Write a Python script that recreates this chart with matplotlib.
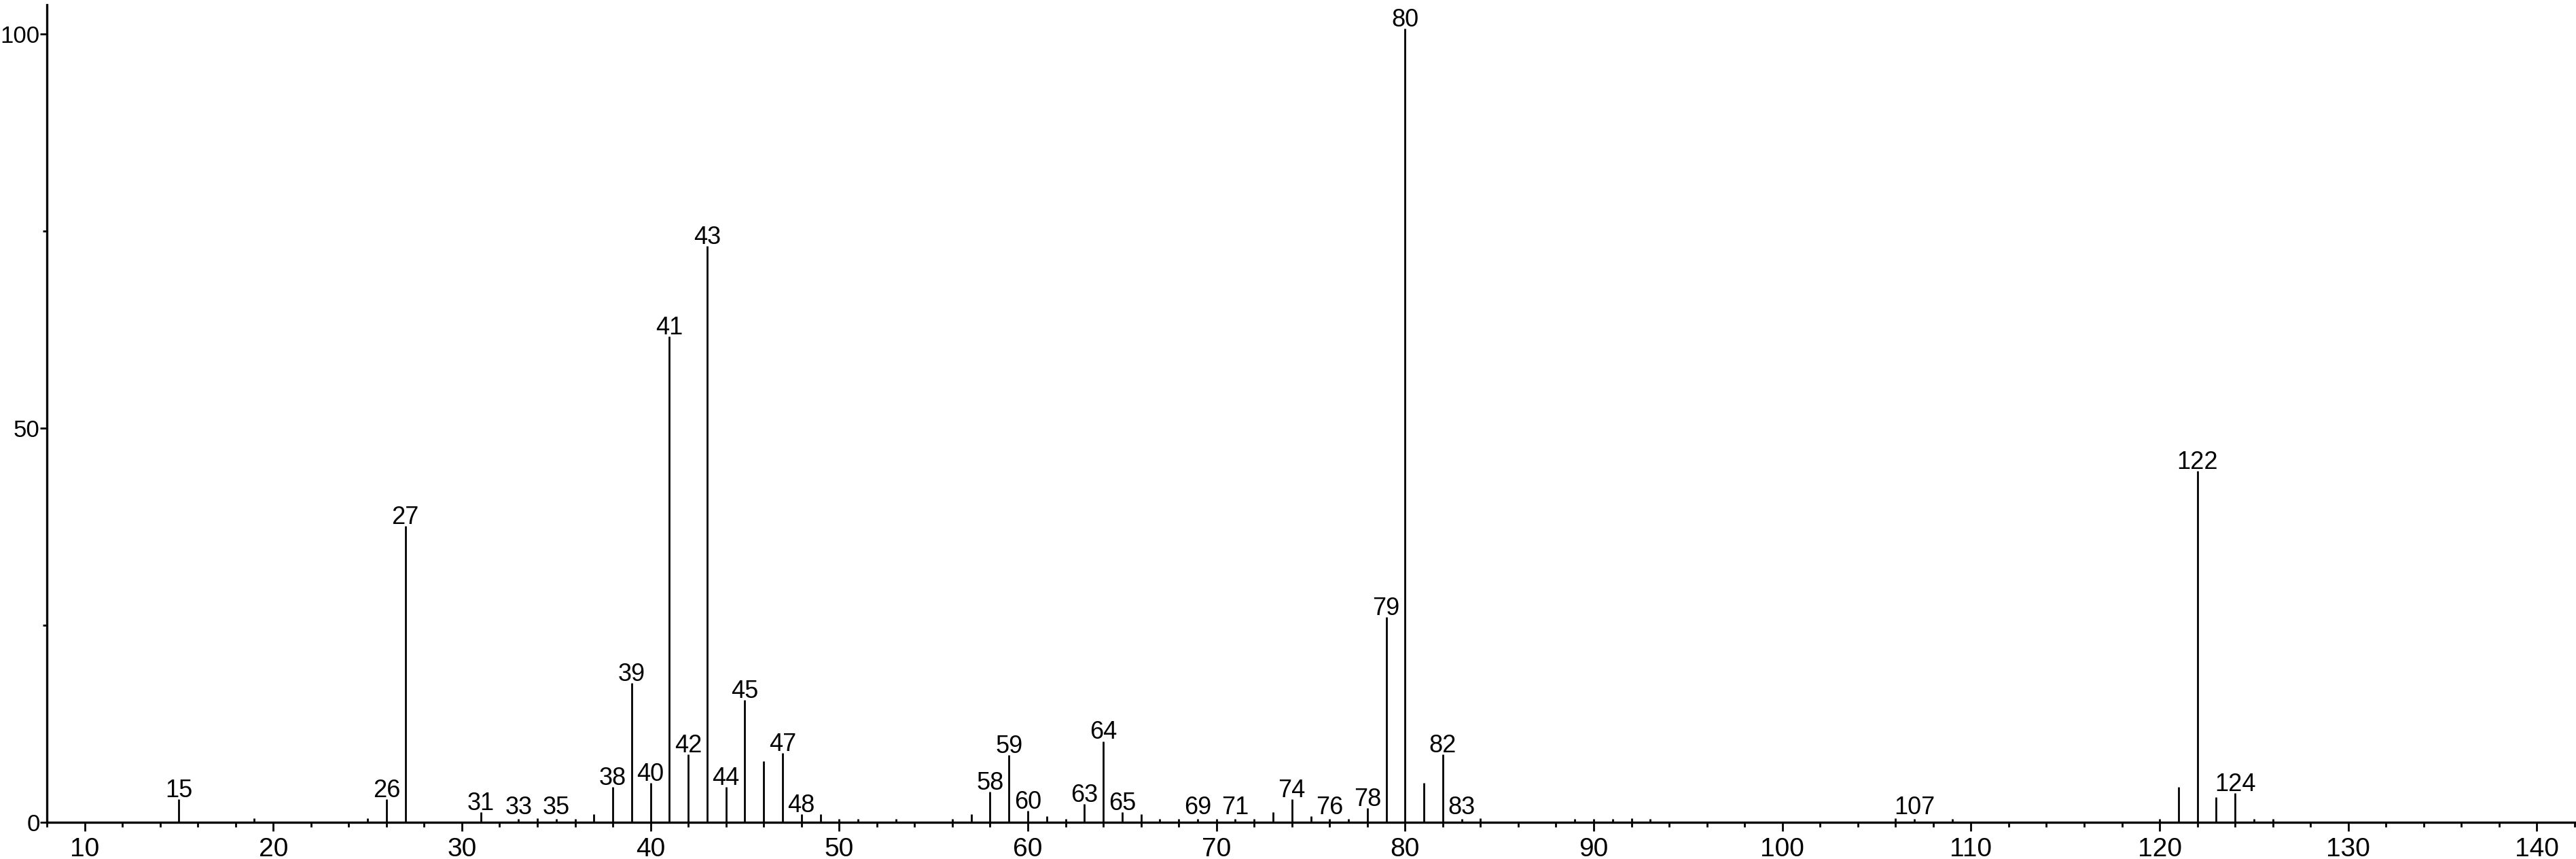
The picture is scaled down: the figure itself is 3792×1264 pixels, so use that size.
import matplotlib
matplotlib.use("Agg")
import matplotlib.pyplot as plt
from matplotlib.ticker import MultipleLocator

plt.rcParams['font.family'] = ['Liberation Sans', 'DejaVu Sans']

# m/z values and relative intensities
mz = [15, 19, 25, 26, 27, 31, 33, 34, 35, 36, 37, 38, 39, 40, 41, 42, 43, 44,
      45, 46, 47, 48, 49, 50, 51, 53, 56, 57, 58, 59, 60, 61, 62, 63, 64, 65,
      66, 67, 68, 69, 70, 71, 72, 73, 74, 75, 76, 77, 78, 79, 80, 81, 82, 83,
      84, 89, 90, 91, 92, 93, 106, 107, 109, 120, 121, 122, 123, 124, 125, 126]
intensity = [2.9, 0.5, 0.5, 2.9, 37.6, 1.25, 0.46, 0.5, 0.46, 0.46, 1.0, 4.5,
             17.7, 5.0, 61.6, 8.6, 73.1, 4.5, 15.5, 7.8, 8.8, 1.0, 1.0, 0.46,
             0.46, 0.46, 0.46, 1.0, 3.9, 8.5, 1.5, 0.8, 0.46, 2.3, 10.3, 1.25,
             1.0, 0.46, 0.46, 0.46, 0.46, 0.46, 0.46, 1.3, 2.9, 0.75, 0.46, 0.46,
             1.8, 26.0, 100.7, 5.0, 8.6, 0.46, 0.5, 0.46, 0.46, 0.46, 0.5, 0.46,
             0.5, 0.46, 0.46, 0.46, 4.5, 44.6, 3.2, 3.7, 0.46, 0.46]
labeled = [15, 26, 27, 31, 33, 35, 38, 39, 40, 41, 42, 43, 44, 45, 47, 48, 58,
           59, 60, 63, 64, 65, 69, 71, 74, 76, 78, 79, 80, 82, 83, 107, 122, 124]
x_major = [10, 20, 30, 40, 50, 60, 70, 80, 90, 100, 110, 120, 130, 140]
y_major = [0, 50, 100]

W, H = 3792, 1264
fig = plt.figure(figsize=(W / 100, H / 100), dpi=100)
ax = fig.add_axes([69 / W, (H - 1210) / H, (3790 - 69) / W, (1210 - 7) / H])

ax.vlines(mz, 0, intensity, colors='black', linewidth=2.0)

lookup = dict(zip(mz, intensity))
for m in labeled:
    v = lookup[m]
    ax.annotate(str(m), (m, max(v, 0.8)), xytext=(0, 2.2), textcoords='offset points',
                ha='center', va='baseline', fontsize=26, color='black',
                annotation_clip=False)

ax.set_xlim(8, 142)
ax.set_ylim(0, 103.7)
ax.set_xticks(x_major)
ax.set_xticklabels([str(t) for t in x_major])
ax.xaxis.set_minor_locator(MultipleLocator(2))
ax.set_yticks(y_major)
ax.set_yticklabels([str(t) for t in y_major])
ax.yaxis.set_minor_locator(MultipleLocator(25))

for s in ['top', 'right']:
    ax.spines[s].set_visible(False)
for s in ['left', 'bottom']:
    ax.spines[s].set_linewidth(2.4)
    ax.spines[s].set_color('black')

ax.tick_params(axis='x', which='major', direction='out', length=9, width=2.0,
               labelsize=28, pad=7)
ax.tick_params(axis='x', which='minor', direction='out', length=5, width=2.0)
ax.tick_params(axis='y', which='major', direction='out', length=7, width=2.0,
               labelsize=25, pad=0.5)
ax.tick_params(axis='y', which='minor', direction='out', length=4, width=2.0)

ax.set_facecolor('white')
fig.patch.set_facecolor('white')
fig.savefig('out.png', dpi=100)
